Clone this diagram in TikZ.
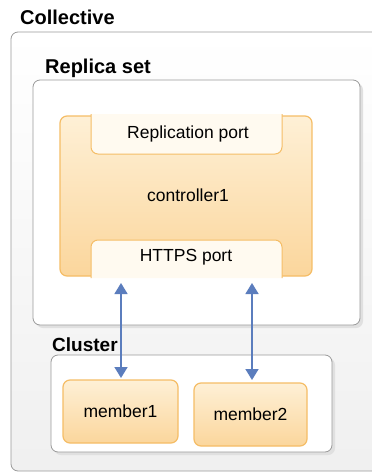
\documentclass[tikz,border=0pt]{standalone}
\usepackage{fontspec}
\setmainfont{Liberation Sans}
\usetikzlibrary{arrows.meta}
\definecolor{framegray}{HTML}{9A9A9A}
\definecolor{orangeedge}{HTML}{F5BD66}
\definecolor{orangetop}{HTML}{FEF0D6}
\definecolor{orangebot}{HTML}{FBD69C}
\definecolor{portfill}{HTML}{FFFAF0}
\definecolor{linkblue}{HTML}{5B7DBD}
\tikzset{
  group/.style={draw=framegray, line width=0.8pt, rounded corners=7pt},
  grouptitle/.style={font=\bfseries\fontsize{20}{24}\selectfont, anchor=west, inner sep=0pt},
  unit/.style={draw=orangeedge, line width=1.2pt, rounded corners=7pt,
    top color=orangetop, bottom color=orangebot},
  port/.style={draw=orangeedge, line width=1pt, fill=portfill},
  lbl/.style={font=\fontsize{17.5}{20}\selectfont, inner sep=0pt},
  link/.style={draw=linkblue, line width=1.6pt, {Triangle[length=11pt,width=13pt]}-{Triangle[length=11pt,width=13pt]}}
}
\begin{document}
\begin{tikzpicture}[x=1pt,y=-1pt]
\useasboundingbox (0,0) rectangle (372,474);
% outer collective frame
\draw[group, top color=white, bottom color=black!6] (11,32) rectangle (390,471);
\node[grouptitle] (tcoll) at (20,17) {Collective};
% replica set
\fill[black!12, rounded corners=7pt] (36,83) rectangle (363,328);
\draw[group, fill=white] (33,80) rectangle (360,325);
\node[grouptitle] (trep) at (45,68) {Replica set};
% controller with its two ports
\draw[unit] (60,116) rectangle (312,276);
\draw[port, rounded corners=7pt] (91,114) -- (91,154) -- (282,154) -- (282,114);
\node[lbl] (ctrl) at (188,195) {controller1};
\node[lbl] (repport) at (188,134) {Replication port};
\draw[port, rounded corners=7pt] (91,278) -- (91,240) -- (282,240) -- (282,278);
\node[lbl] (https) at (186,257) {HTTPS port};
% cluster
\fill[black!12, rounded corners=7pt] (54,358) rectangle (335,455);
\draw[group, fill=white] (51,355) rectangle (332,452);
\node[grouptitle, font=\bfseries\fontsize{19}{22}\selectfont] (tclu) at (52,345) {Cluster};
\draw[unit] (63,380) rectangle (178,443);
\node[lbl] (m1) at (120.5,411) {member1};
\draw[unit] (194,383) rectangle (307,446);
\node[lbl] (m2) at (250.5,414) {member2};
% links between ports and members
\coordinate (a1) at (121,283);
\coordinate (b1) at (121,378);
\coordinate (a2) at (252,283);
\coordinate (b2) at (252,380);
\draw[link] (a1) -- (b1);
\draw[link] (a2) -- (b2);
\end{tikzpicture}
\end{document}
